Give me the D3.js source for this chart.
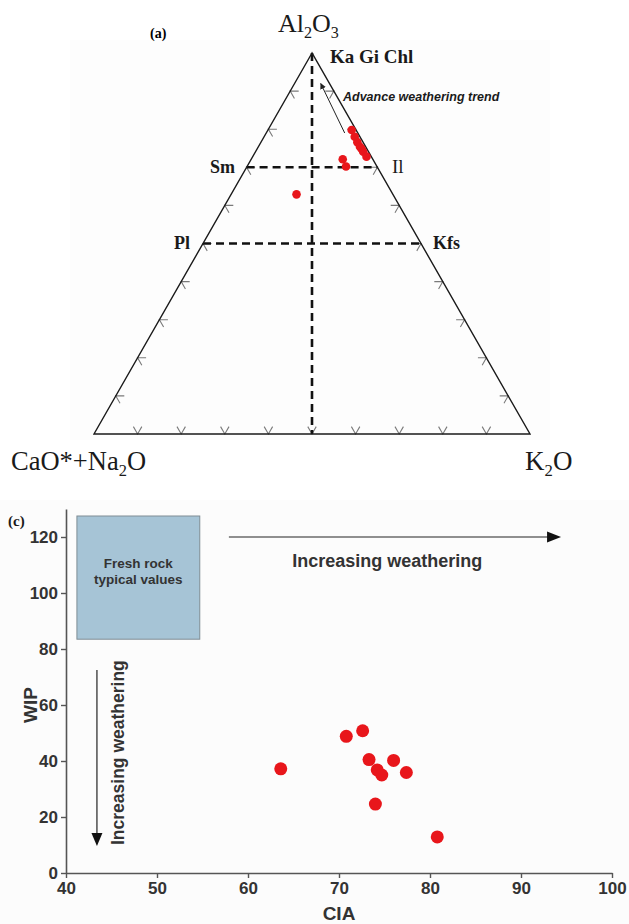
<!DOCTYPE html>
<html>
<head>
<meta charset="utf-8">
<script src="https://cdn.jsdelivr.net/npm/d3@7"></script>
<style>
  html, body { margin: 0; padding: 0; background: #fff; }
  svg { display: block; }
</style>
</head>
<body>
<div id="chart"></div>
<script>
// ternary A-CN-K samples (fractions)
const triAl2O3 = [0.798, 0.780, 0.766, 0.754, 0.748, 0.741, 0.728, 0.721, 0.702, 0.629];
const triCaONa2O = [0.010, 0.012, 0.013, 0.013, 0.012, 0.012, 0.011, 0.069, 0.071, 0.221];
const triK2O = [0.192, 0.208, 0.221, 0.233, 0.240, 0.247, 0.261, 0.210, 0.227, 0.150];

// mineral guide lines (Al2O3 fraction)
const guideLevels = [0.7, 0.5];
const triTickFractions = [0.1, 0.2, 0.3, 0.4, 0.5, 0.6, 0.7, 0.8, 0.9];

// CIA vs WIP samples
const ciaValues = [63.6, 70.8, 72.6, 73.3, 74.2, 74.7, 76.0, 77.4, 74.0, 80.8];
const wipValues = [37.2, 48.8, 50.8, 40.5, 36.8, 35.0, 40.2, 35.9, 24.6, 12.9];

const ciaTicks = [40, 50, 60, 70, 80, 90, 100];
const wipTicks = [0, 20, 40, 60, 80, 100, 120];
const freshRockBox = { cia: [41.2, 54.7], wip: [83.5, 127.5] };

const width = 629;
const height = 924;

const svg = d3.select("#chart").append("svg")
  .attr("width", width)
  .attr("height", height)
  .attr("viewBox", `0 0 ${width} ${height}`);

svg.append("defs").append("marker")
  .attr("id", "arrow-small")
  .attr("viewBox", "0 0 10 10")
  .attr("refX", 9).attr("refY", 5)
  .attr("markerWidth", 6).attr("markerHeight", 6)
  .attr("markerUnits", "userSpaceOnUse")
  .attr("orient", "auto")
  .append("path").attr("d", "M0,0L10,5L0,10z").attr("fill", "#222");

const serif = "'Liberation Serif', 'Times New Roman', serif";
const sans = "'Liberation Sans', Arial, Helvetica, sans-serif";

// ---------- (a) ternary ----------
const triX = d3.scaleLinear().domain([0, 1]).range([94, 530]);
const triY = d3.scaleLinear().domain([0, 1]).range([434, 53]);

function tern(a, cn, k) {
  const s = a + cn + k;
  return [triX(k / s + a / s / 2), triY(a / s)];
}

const apexA = tern(1, 0, 0);
const apexCN = tern(0, 1, 0);
const apexK = tern(0, 0, 1);

function unit(from, to) {
  const dx = to[0] - from[0];
  const dy = to[1] - from[1];
  const len = Math.hypot(dx, dy);
  return [dx / len, dy / len];
}

const tri = svg.append("g").attr("class", "ternary");

tri.append("rect")
  .attr("x", 70).attr("y", 40).attr("width", 480).attr("height", 400)
  .attr("fill", "#fdfdfd");

// side tick chevrons
const tickLen = 8.5;
const tickSpecs = [];
triTickFractions.forEach((f) => {
  tickSpecs.push({ p: tern(0, 1 - f, f), d1: unit(apexK, apexA), d2: unit(apexCN, apexA) });
  tickSpecs.push({ p: tern(f, 1 - f, 0), d1: unit(apexCN, apexK), d2: unit(apexA, apexK) });
  tickSpecs.push({ p: tern(f, 0, 1 - f), d1: unit(apexK, apexCN), d2: unit(apexA, apexCN) });
});
tri.append("g")
  .selectAll("path")
  .data(tickSpecs)
  .join("path")
  .attr("d", (t) => {
    const [x, y] = t.p;
    return `M${x + t.d1[0] * tickLen},${y + t.d1[1] * tickLen}L${x},${y}L${x + t.d2[0] * tickLen},${y + t.d2[1] * tickLen}`;
  })
  .attr("fill", "none")
  .attr("stroke", "#7a7a7a")
  .attr("stroke-width", 1.1);

// dashed mineral guides
const dashedSegments = [
  [tern(1, 0, 0), tern(0, 0.5, 0.5)],
  ...guideLevels.map((a) => [tern(a, 1 - a, 0), tern(a, 0, 1 - a)]),
];
tri.append("g")
  .selectAll("line")
  .data(dashedSegments)
  .join("line")
  .attr("x1", (s) => s[0][0]).attr("y1", (s) => s[0][1])
  .attr("x2", (s) => s[1][0]).attr("y2", (s) => s[1][1])
  .attr("stroke", "#111")
  .attr("stroke-width", 2.6)
  .attr("stroke-dasharray", "8,5");

// triangle outline
tri.append("path")
  .attr("d", d3.line()([apexA, apexCN, apexK]) + "Z")
  .attr("fill", "none")
  .attr("stroke", "#1a1a1a")
  .attr("stroke-width", 1.4)
  .attr("stroke-linejoin", "miter");

// advance weathering arrow
const trendStart = tern(0.79, 0.03, 0.18);
const trendEnd = tern(0.92, 0.02, 0.06);
tri.append("line")
  .attr("x1", trendStart[0]).attr("y1", trendStart[1])
  .attr("x2", trendEnd[0]).attr("y2", trendEnd[1])
  .attr("stroke", "#222")
  .attr("stroke-width", 1)
  .attr("marker-end", "url(#arrow-small)");

// samples
tri.append("g")
  .selectAll("circle")
  .data(triAl2O3.map((a, i) => tern(a, triCaONa2O[i], triK2O[i])))
  .join("circle")
  .attr("cx", (p) => p[0])
  .attr("cy", (p) => p[1])
  .attr("r", 4.3)
  .attr("fill", "#e8161b");

// labels with subscripts
function subLabel(g, x, y, parts, size) {
  const t = g.append("text")
    .attr("x", x).attr("y", y)
    .attr("font-family", serif)
    .attr("font-size", size)
    .attr("fill", "#1a1a1a");
  const off = size * 0.24;
  let prevSub = false;
  parts.forEach(([str, isSub]) => {
    let dy = 0;
    if (isSub && !prevSub) dy = off;
    if (!isSub && prevSub) dy = -off;
    t.append("tspan")
      .attr("font-size", isSub ? size * 0.62 : size)
      .attr("dy", dy)
      .text(str);
    prevSub = isSub;
  });
  return t;
}

subLabel(tri, 278, 32, [["Al", false], ["2", true], ["O", false], ["3", true]], 26);
subLabel(tri, 11, 470, [["CaO*+Na", false], ["2", true], ["O", false]], 26.5);
subLabel(tri, 525, 470, [["K", false], ["2", true], ["O", false]], 27);

tri.append("text")
  .attr("x", 150).attr("y", 38)
  .attr("font-family", serif).attr("font-weight", "bold").attr("font-size", 14)
  .text("(a)");

const mineralLabels = [
  { text: "Ka Gi Chl", x: 330, y: 63, anchor: "start", bold: true, size: 19 },
  { text: "Sm", x: 235, y: 173, anchor: "end", bold: true, size: 18 },
  { text: "Il", x: 392, y: 173, anchor: "start", bold: false, size: 19 },
  { text: "Pl", x: 190, y: 249, anchor: "end", bold: true, size: 18 },
  { text: "Kfs", x: 433, y: 249, anchor: "start", bold: true, size: 18 },
];
tri.append("g")
  .selectAll("text")
  .data(mineralLabels)
  .join("text")
  .attr("x", (d) => d.x).attr("y", (d) => d.y)
  .attr("text-anchor", (d) => d.anchor)
  .attr("font-family", serif)
  .attr("font-weight", (d) => (d.bold ? "bold" : "normal"))
  .attr("font-size", (d) => d.size)
  .attr("fill", "#1a1a1a")
  .text((d) => d.text);

tri.append("text")
  .attr("x", 343).attr("y", 101)
  .attr("font-family", sans).attr("font-weight", "bold").attr("font-style", "italic")
  .attr("font-size", 12.5)
  .attr("fill", "#1a1a1a")
  .text("Advance weathering trend");

// ---------- (c) CIA vs WIP ----------
const x = d3.scaleLinear().domain([40, 100]).range([66, 612]);
const y = d3.scaleLinear().domain([0, 130]).range([873, 509]);

const plot = svg.append("g").attr("class", "cia-wip");

plot.append("rect")
  .attr("x", 0).attr("y", 500).attr("width", width).attr("height", 424)
  .attr("fill", "#fcfcfc");

const xAxis = plot.append("g")
  .attr("transform", `translate(0,${y(0)})`)
  .call(d3.axisBottom(x).tickValues(ciaTicks).tickSize(5).tickPadding(4).tickSizeOuter(0));
const yAxis = plot.append("g")
  .attr("transform", `translate(${x(40)},0)`)
  .call(d3.axisLeft(y).tickValues(wipTicks).tickSize(5).tickPadding(3).tickSizeOuter(0));

[xAxis, yAxis].forEach((ax) => {
  ax.select(".domain").attr("stroke", "#555").attr("stroke-width", 1.6);
  ax.selectAll(".tick line").attr("stroke", "#555").attr("stroke-width", 1.4);
  ax.selectAll(".tick text")
    .attr("font-family", sans)
    .attr("font-weight", "bold")
    .attr("font-size", 17)
    .attr("fill", "#333");
});

plot.append("text")
  .attr("x", x(70)).attr("y", 920)
  .attr("text-anchor", "middle")
  .attr("font-family", sans).attr("font-weight", "bold").attr("font-size", 19)
  .attr("fill", "#333")
  .text("CIA");

plot.append("text")
  .attr("transform", `translate(37,${y(60)}) rotate(-90)`)
  .attr("text-anchor", "middle")
  .attr("font-family", sans).attr("font-weight", "bold").attr("font-size", 19)
  .attr("fill", "#333")
  .text("WIP");

plot.append("text")
  .attr("x", 8).attr("y", 526)
  .attr("font-family", serif).attr("font-weight", "bold").attr("font-size", 15)
  .attr("fill", "#1a1a1a")
  .text("(c)");

// fresh rock box
plot.append("rect")
  .attr("x", x(freshRockBox.cia[0]))
  .attr("y", y(freshRockBox.wip[1]))
  .attr("width", x(freshRockBox.cia[1]) - x(freshRockBox.cia[0]))
  .attr("height", y(freshRockBox.wip[0]) - y(freshRockBox.wip[1]))
  .attr("fill", "#a6c4d6")
  .attr("stroke", "#7f8c94")
  .attr("stroke-width", 1);

const boxCenter = x((freshRockBox.cia[0] + freshRockBox.cia[1]) / 2);
plot.append("text")
  .attr("x", boxCenter).attr("y", 568)
  .attr("text-anchor", "middle")
  .attr("font-family", sans).attr("font-weight", "bold").attr("font-size", 13.5)
  .attr("fill", "#333")
  .selectAll("tspan")
  .data(["Fresh rock", "typical values"])
  .join("tspan")
  .attr("x", boxCenter)
  .attr("dy", (d, i) => (i === 0 ? 0 : 16))
  .text((d) => d);

// weathering arrows
function arrowHead(g, tip, dir, len, half) {
  const [tx, ty] = tip;
  const [dx, dy] = dir;
  g.append("path")
    .attr("d", `M${tx},${ty}L${tx - dx * len - dy * half},${ty - dy * len + dx * half}L${tx - dx * len + dy * half},${ty - dy * len - dx * half}Z`)
    .attr("fill", "#111");
}

const hStart = [x(57.9), y(120)];
const hEnd = [x(94.4), y(120)];
plot.append("line")
  .attr("x1", hStart[0]).attr("y1", hStart[1])
  .attr("x2", hEnd[0] - 10).attr("y2", hEnd[1])
  .attr("stroke", "#222").attr("stroke-width", 1.2);
arrowHead(plot, hEnd, [1, 0], 14, 5.5);

plot.append("text")
  .attr("x", x(75.3)).attr("y", 567)
  .attr("text-anchor", "middle")
  .attr("font-family", sans).attr("font-weight", "bold").attr("font-size", 18)
  .attr("fill", "#333")
  .text("Increasing weathering");

const vStart = [x(43.4), y(72.5)];
const vEnd = [x(43.4), y(9.6)];
plot.append("line")
  .attr("x1", vStart[0]).attr("y1", vStart[1])
  .attr("x2", vEnd[0]).attr("y2", vEnd[1] - 10)
  .attr("stroke", "#222").attr("stroke-width", 1.2);
arrowHead(plot, vEnd, [0, 1], 13, 5.5);

plot.append("text")
  .attr("transform", `translate(124,${y(10)}) rotate(-90)`)
  .attr("text-anchor", "start")
  .attr("font-family", sans).attr("font-weight", "bold").attr("font-size", 17.5)
  .attr("fill", "#333")
  .text("Increasing weathering");

// samples
plot.append("g")
  .selectAll("circle")
  .data(ciaValues.map((c, i) => [c, wipValues[i]]))
  .join("circle")
  .attr("cx", (d) => x(d[0]))
  .attr("cy", (d) => y(d[1]))
  .attr("r", 6.5)
  .attr("fill", "#e8161b");
</script>
</body>
</html>
